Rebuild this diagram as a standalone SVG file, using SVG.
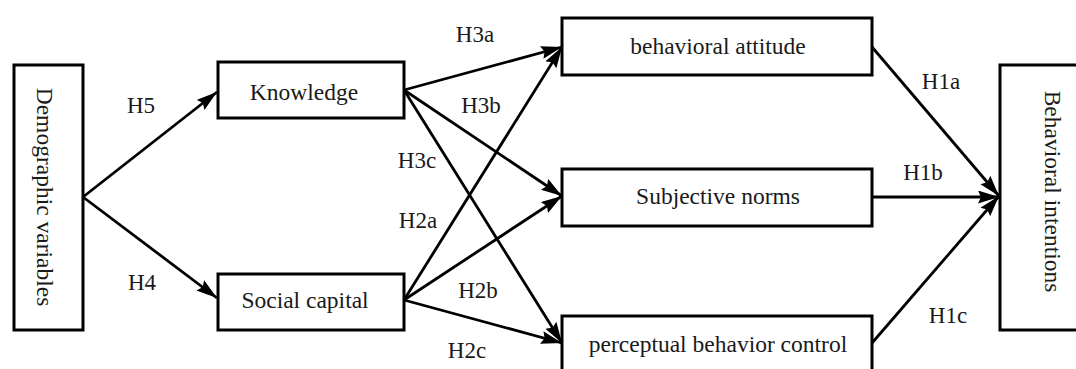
<svg xmlns="http://www.w3.org/2000/svg" width="1076" height="369" viewBox="0 0 1076 369">
<style>
.box{fill:#fff;stroke:#000;stroke-width:3}
.t{font-family:"Liberation Serif","Times New Roman",serif;font-size:23.5px;fill:#1a1a1a;text-anchor:middle}
.lbl{font-family:"Liberation Serif","Times New Roman",serif;font-size:23px;fill:#1a1a1a;text-anchor:middle}
.c{stroke:#000;stroke-width:2.8;fill:none;marker-end:url(#ah)}
</style>
<defs>
<marker id="ah" markerUnits="userSpaceOnUse" markerWidth="22" markerHeight="14" refX="21" refY="6.5" orient="auto">
<path d="M0,0 L21,6.5 L0,13 L3,6.5 Z" fill="#000"/>
</marker>
</defs>
<g id="connectors">
<line class="c" x1="83" y1="197" x2="217" y2="92"/>
<line class="c" x1="83" y1="197" x2="217" y2="298"/>
<line class="c" x1="404" y1="90" x2="562" y2="47"/>
<line class="c" x1="404" y1="90" x2="562" y2="196"/>
<line class="c" x1="404" y1="90" x2="562" y2="343"/>
<line class="c" x1="404" y1="300" x2="562" y2="47"/>
<line class="c" x1="404" y1="300" x2="562" y2="196"/>
<line class="c" x1="404" y1="300" x2="562" y2="343"/>
<line class="c" x1="872" y1="47" x2="999" y2="196"/>
<line class="c" x1="872" y1="197" x2="999" y2="197"/>
<line class="c" x1="872" y1="343" x2="999" y2="196"/>
</g>
<g id="labels">
<text class="lbl" x="141" y="113">H5</text>
<text class="lbl" x="142" y="290">H4</text>
<text class="lbl" x="475" y="42">H3a</text>
<text class="lbl" x="481" y="113">H3b</text>
<text class="lbl" x="417" y="168">H3c</text>
<text class="lbl" x="418" y="228">H2a</text>
<text class="lbl" x="478" y="298">H2b</text>
<text class="lbl" x="467" y="358">H2c</text>
<text class="lbl" x="941" y="89">H1a</text>
<text class="lbl" x="923" y="180">H1b</text>
<text class="lbl" x="948" y="323">H1c</text>
</g>
<g id="demographic">
<rect class="box" x="14" y="65" width="69" height="265"/>
<text class="t" transform="translate(37,197) rotate(90)" x="0" y="0">Demographic variables</text>
</g>
<g id="knowledge">
<rect class="box" x="218" y="62" width="186" height="56"/>
<text class="t" x="304" y="100">Knowledge</text>
</g>
<g id="social-capital">
<rect class="box" x="218" y="274" width="186" height="56"/>
<text class="t" x="305" y="308">Social capital</text>
</g>
<g id="behavioral-attitude">
<rect class="box" x="562" y="18" width="310" height="57"/>
<text class="t" x="718" y="54">behavioral attitude</text>
</g>
<g id="subjective-norms">
<rect class="box" x="562" y="169" width="310" height="57"/>
<text class="t" x="718" y="204">Subjective norms</text>
</g>
<g id="perceptual-behavior-control">
<rect class="box" x="562" y="316" width="310" height="60"/>
<text class="t" x="718" y="352">perceptual behavior control</text>
</g>
<g id="behavioral-intentions">
<rect class="box" x="1000" y="65" width="90" height="265"/>
<text class="t" transform="translate(1045,191.5) rotate(90)" x="0" y="0">Behavioral intentions</text>
</g>
</svg>
